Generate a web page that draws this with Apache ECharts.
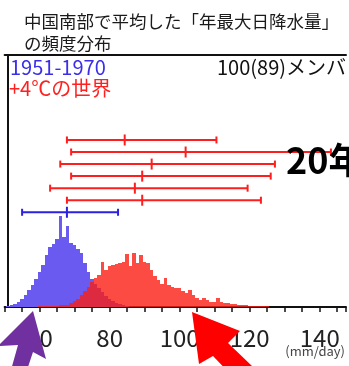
<!DOCTYPE html>
<html><head><meta charset="utf-8">
<script src="https://cdn.jsdelivr.net/npm/echarts@6/dist/echarts.min.js"></script>
<style>html,body{margin:0;padding:0;background:#fff;}#c{width:349px;height:366px;}</style>
</head><body><div id="c"></div>
<script>
// ---- data ----
const blueBins   = [51,52,53,54,55,56,57,58,59,60,61,62,63,64,65,66,67,68,69,70,71,72,73,74,75,76,77,78,79,80,81,82,83,84,85];
const blueCounts = [1,2,3,5,8,12,17,22,28,35,42,52,60,63,68,91,70,81,64,62,58,54,44,35,28,23,19,15,11,8,6,4,3,2,1];
const redBins    = [60,61,62,63,64,65,66,67,68,69,70,71,72,73,74,75,76,77,78,79,80,81,82,83,84,85,86,87,88,89,90,91,92,93,94,95,96,97,98,99,100,101,102,103,104,105,106,107,108,109,110,111,112,113,114,115,116,117,118,119,120,121,122,123,124,125];
const redCounts  = [1,1,1,1,1,1,2,2,2,4,6,8,12,16,20,25,29,32,45,37,41,42,43,44,45,53,41,54,44,52,45,44,37,31,27,23,29,22,20,19,19,16,14,17,12,9,7,9,7,5,5,9,5,4,4,3,3,2,2,2,1,1,1,1,1,1];
// ensemble ranges (top row first): low, median, high
const redLow  = [67.8, 69.0, 65.9, 69.0, 63.0, 67.8];
const redMid  = [84.3, 101.7, 92.0, 89.3, 87.2, 89.3];
const redHigh = [110.5, 143.2, 127.2, 126.0, 119.4, 123.2];
const blueRange = [55.0, 67.8, 82.4];
const tickLabels = [60, 80, 100, 120, 140];

const FONT = '"Noto Sans CJK JP", "Noto Sans", sans-serif';

const blueData = blueBins.map((b, i) => [b, blueCounts[i]]);
const redData = redBins.map((b, i) => [b, redCounts[i]]);
const nRed = redLow.length;
const redErr = redLow.map((lo, i) => [nRed - i, lo, redMid[i], redHigh[i]]);
const blueErr = [[0, blueRange[0], blueRange[1], blueRange[2]]];

function histRender(params, api) {
  const v = api.value(0), h = api.value(1);
  const p0 = api.coord([v - 0.5, h]);
  const p1 = api.coord([v + 0.5, 0]);
  const x0 = Math.round(p0[0]), x1 = Math.round(p1[0]);
  return { type: 'rect', shape: { x: x0, y: p0[1], width: x1 - x0, height: p1[1] - p0[1] },
           style: { fill: api.visual('color') } };
}
function errRender(params, api) {
  const row = api.value(0), lo = api.value(1), mid = api.value(2), hi = api.value(3);
  const a = api.coord([lo, row]), b = api.coord([hi, row]), m = api.coord([mid, row]);
  const st = { stroke: api.visual('color'), lineWidth: 2 };
  return { type: 'group', children: [
    { type: 'line', shape: { x1: a[0], y1: a[1], x2: b[0], y2: b[1] }, style: st },
    { type: 'line', shape: { x1: a[0], y1: a[1] - 3.5, x2: a[0], y2: a[1] + 3.5 }, style: st },
    { type: 'line', shape: { x1: b[0], y1: b[1] - 3.5, x2: b[0], y2: b[1] + 3.5 }, style: st },
    { type: 'line', shape: { x1: m[0], y1: m[1] - 5.5, x2: m[0], y2: m[1] + 5.5 }, style: st }
  ]};
}

const chart = echarts.init(document.getElementById('c'), null, { renderer: 'canvas' });
chart.setOption({
  animation: false,
  backgroundColor: '#fff',
  title: {
    text: '中国南部で平均した「年最大日降水量」\nの頻度分布',
    left: 19, top: 5,
    textStyle: { fontSize: 17.5, fontWeight: 'normal', color: '#1a1a1a', fontFamily: FONT, lineHeight: 22 }
  },
  grid: { left: 4.6, right: 1.2, top: 55, bottom: 59, containLabel: false },
  xAxis: [
    { type: 'value', min: 50, max: 147.5, interval: 5, position: 'bottom',
      axisLine: { show: true, onZero: false, lineStyle: { color: '#111', width: 2 } },
      axisTick: { show: true, length: 5, lineStyle: { color: '#111', width: 1.5 } },
      axisLabel: { formatter: v => tickLabels.indexOf(v) >= 0 ? String(v) : '',
                   fontSize: 24, color: '#222', margin: 19, fontFamily: FONT },
      splitLine: { show: false } },
    { type: 'value', min: 50, max: 147.5, position: 'top',
      axisLine: { show: true, onZero: false, lineStyle: { color: '#111', width: 2 } },
      axisTick: { show: false }, axisLabel: { show: false }, splitLine: { show: false } }
  ],
  yAxis: [
    { type: 'value', min: 0, max: 252, offset: -3.4,
      axisLine: { show: true, onZero: false, lineStyle: { color: '#111', width: 2 } },
      axisTick: { show: false }, axisLabel: { show: false }, splitLine: { show: false } },
    { type: 'value', min: -7.86, max: 13.05, show: false,
      axisLine: { show: false, onZero: false }, splitLine: { show: false } }
  ],
  series: [
    { type: 'custom', name: '1951-1970', xAxisIndex: 0, yAxisIndex: 0, clip: true,
      renderItem: histRender, data: blueData, itemStyle: { color: '#6b5af0' }, z: 2 },
    { type: 'custom', name: '+4℃', xAxisIndex: 0, yAxisIndex: 0, clip: true,
      renderItem: histRender, data: redData, itemStyle: { color: 'rgba(250,30,20,0.8)' }, z: 3 },
    { type: 'custom', xAxisIndex: 0, yAxisIndex: 1, renderItem: errRender,
      encode: { x: [1, 2, 3], y: 0 }, data: redErr, itemStyle: { color: '#ff1e1e' }, z: 4 },
    { type: 'custom', xAxisIndex: 0, yAxisIndex: 1, renderItem: errRender,
      encode: { x: [1, 2, 3], y: 0 }, data: blueErr, itemStyle: { color: '#2a22e0' }, z: 4 }
  ],
  graphic: [
    { type: 'text', left: 10, top: 57, z: 100,
      style: { text: '1951-1970', fontSize: 20, fill: '#3a2ee8', fontFamily: FONT } },
    { type: 'text', left: 9, top: 78, z: 100,
      style: { text: '+4℃の世界', fontSize: 20, fill: '#ff2020', fontFamily: FONT } },
    { type: 'text', left: 217, top: 57, z: 100,
      style: { text: '100(89)メンバ', fontSize: 20, fill: '#111', fontFamily: FONT } },
    { type: 'text', left: 286, top: 142, z: 100,
      style: { text: '20年', fontSize: 36, fontWeight: 'bold', fill: '#000', fontFamily: FONT } },
    { type: 'text', right: 4, top: 345, z: 100,
      style: { text: '(mm/day)', fontSize: 13, fill: '#444', fontFamily: FONT } },
    { type: 'polygon', z: 100,
      shape: { points: [[33,311],[46,359],[33,352],[27,370],[11,370],[18,345],[-2,346]] },
      style: { fill: '#7030a0' } },
    { type: 'polygon', z: 100,
      shape: { points: [[192,312],[240,331],[228,343],[252,366],[236,380],[213,356],[199,364]] },
      style: { fill: '#ff0000' } }
  ]
});
</script>
</body></html>
